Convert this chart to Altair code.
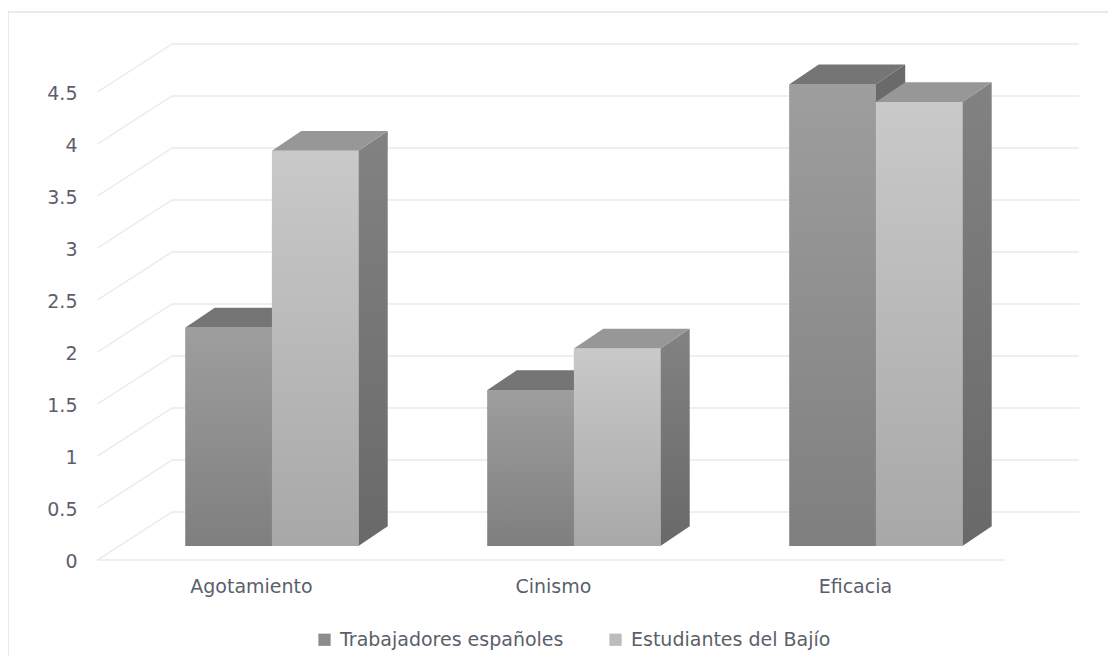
import altair as alt
import pandas as pd

categories = ["Agotamiento", "Cinismo", "Eficacia"]
series_names = ["Trabajadores españoles", "Estudiantes del Bajío"]
trabajadores = [2.1, 1.5, 4.44]
estudiantes = [3.8, 1.9, 4.27]
ticks = [0, 0.5, 1, 1.5, 2, 2.5, 3, 3.5, 4, 4.5]

# depth geometry in data units (1 x unit = one category, 1 y unit = one value)
BAR_W = 0.2864
DX, DY = 0.097, 0.19
WALL_SHIFT, FRONT_SHIFT = 0.327, -0.135
WALL_L, WALL_R, FLOOR_L, FLOOR_R = -0.331, 2.673, -0.578, 2.427
X_DOM = [-0.874, 2.7685]
Y_DOM = [-1.0577, 5.173]
FONT = "DejaVu Sans"
FS = 19
TEXT = "#5b5f6b"
GRID = "#e8eaef"

xs = alt.Scale(domain=X_DOM, nice=False, zero=False)
ys = alt.Scale(domain=Y_DOM, nice=False, zero=False)
X = lambda f: alt.X(f, type="quantitative", scale=xs, title=None)
Y = lambda f: alt.Y(f, type="quantitative", scale=ys, title=None)


def grad(top, bottom):
    return alt.LinearGradient(
        gradient="linear",
        stops=[alt.GradientStop(color=top, offset=0), alt.GradientStop(color=bottom, offset=1)],
        x1=0, x2=0, y1=0, y2=1,
    )


front_rows, side_rows, top_rows = [], [], []
for s, (name, vals) in enumerate(zip(series_names, [trabajadores, estudiantes])):
    for i, v in enumerate(vals):
        x0 = i + (s - 1) * BAR_W
        x1 = x0 + BAR_W
        front_rows.append(dict(series=name, s=s, cat=categories[i], x0=x0, x1=x1, y0=0, v=v))
        side_rows.append(dict(s=s, cat=categories[i], x=x1, lo=0, hi=v))
        side_rows.append(dict(s=s, cat=categories[i], x=x1 + DX, lo=DY, hi=v + DY))
        top_rows.append(dict(s=s, cat=categories[i], y=v, a=x0, b=x1))
        top_rows.append(dict(s=s, cat=categories[i], y=v + DY, a=x0 + DX, b=x1 + DX))
front = pd.DataFrame(front_rows)
side = pd.DataFrame(side_rows)
top = pd.DataFrame(top_rows)

grid = pd.DataFrame({"tick": ticks})
grid["wall"] = grid.tick + WALL_SHIFT
grid["front"] = grid.tick + FRONT_SHIFT
grid["xl"] = WALL_L
grid["xr"] = WALL_R
grid["fl"] = FLOOR_L

h_lines = alt.Chart(grid).mark_rule(color=GRID, strokeWidth=1.6).encode(
    x=X("xl"), x2="xr", y=Y("wall")
)
d_lines = alt.Chart(grid).mark_rule(color=GRID, strokeWidth=1.4).encode(
    x=X("fl"), x2="xl", y=Y("front"), y2="wall"
)
floor = alt.Chart(pd.DataFrame({"a": [FLOOR_L], "b": [FLOOR_R], "y": [FRONT_SHIFT]})).mark_rule(
    color=GRID, strokeWidth=1.6
).encode(x=X("a"), x2="b", y=Y("y"))

frame = pd.DataFrame({"xl": [X_DOM[0]], "xr": [X_DOM[1]], "yt": [5.135], "yb": [Y_DOM[0]]})
frame_top = alt.Chart(frame).mark_rule(color="#dfe3ea", strokeWidth=1.4).encode(x=X("xl"), x2="xr", y=Y("yt"))
frame_left = alt.Chart(frame).mark_rule(color="#dfe3ea", strokeWidth=1.4).encode(x=X("xl"), y=Y("yt"), y2="yb")

legend_bars = alt.Chart(front).mark_bar().encode(
    x=X("x0"), x2="x1", y=Y("y0"), y2="v",
    color=alt.Color(
        "series:N",
        scale=alt.Scale(domain=series_names, range=["#8c8c8c", "#bcbcbc"]),
        legend=alt.Legend(
            orient="none", legendX=307, legendY=622, direction="horizontal", title=None,
            symbolType="square", symbolSize=150, symbolStrokeWidth=0,
            labelFont=FONT, labelFontSize=FS, labelColor=TEXT, labelLimit=300,
            columnPadding=42, labelOffset=6,
        ),
    ),
)

AXIS_Y = alt.Axis(
    values=ticks, format="~g", domain=False, ticks=False, grid=False, labelPadding=0,
    offset=-69, labelOffset=16, labelFont=FONT, labelFontSize=FS, labelColor=TEXT,
)
AXIS_X = alt.Axis(
    values=[0, 1, 2], labelExpr="['Agotamiento','Cinismo','Eficacia'][datum.value]",
    domain=False, ticks=False, grid=False, labelPadding=0, offset=-79, labelOffset=-21,
    labelFont=FONT, labelFontSize=FS, labelColor=TEXT, labelLimit=300,
)
axes = alt.Chart(front).mark_point(opacity=0).encode(
    x=alt.X("x0:Q", scale=xs, title=None, axis=AXIS_X),
    y=alt.Y("v:Q", scale=ys, title=None, axis=AXIS_Y),
)


def faces(s, front_g, side_g, top_c):
    f = alt.Chart(front[front.s == s]).mark_bar(color=grad(*front_g)).encode(
        x=X("x0"), x2="x1", y=Y("y0"), y2="v"
    )
    sd = alt.Chart(side[side.s == s]).mark_area(color=grad(*side_g), orient="vertical").encode(
        x=X("x"), y=Y("lo"), y2="hi", detail="cat:N"
    )
    t = alt.Chart(top[top.s == s]).mark_area(color=top_c, orient="horizontal").encode(
        y=Y("y"), x=X("a"), x2="b", detail="cat:N"
    )
    return [sd, t, f]


layers = [frame_top, frame_left, h_lines, d_lines, floor, axes, legend_bars]
layers += faces(0, ("#9e9e9e", "#7f7f7f"), ("#6a6a6a", "#686868"), "#757575")
layers += faces(1, ("#c9c9c9", "#a8a8a8"), ("#828282", "#696969"), "#979797")

chart = (
    alt.layer(*layers)
    .properties(width=1100, height=648, padding=0, autosize=alt.AutoSizeParams(type="none"), background="white")
    .configure_view(strokeWidth=0)
)
chart.save("out.html", embed_options={"renderer": "svg", "actions": False})
